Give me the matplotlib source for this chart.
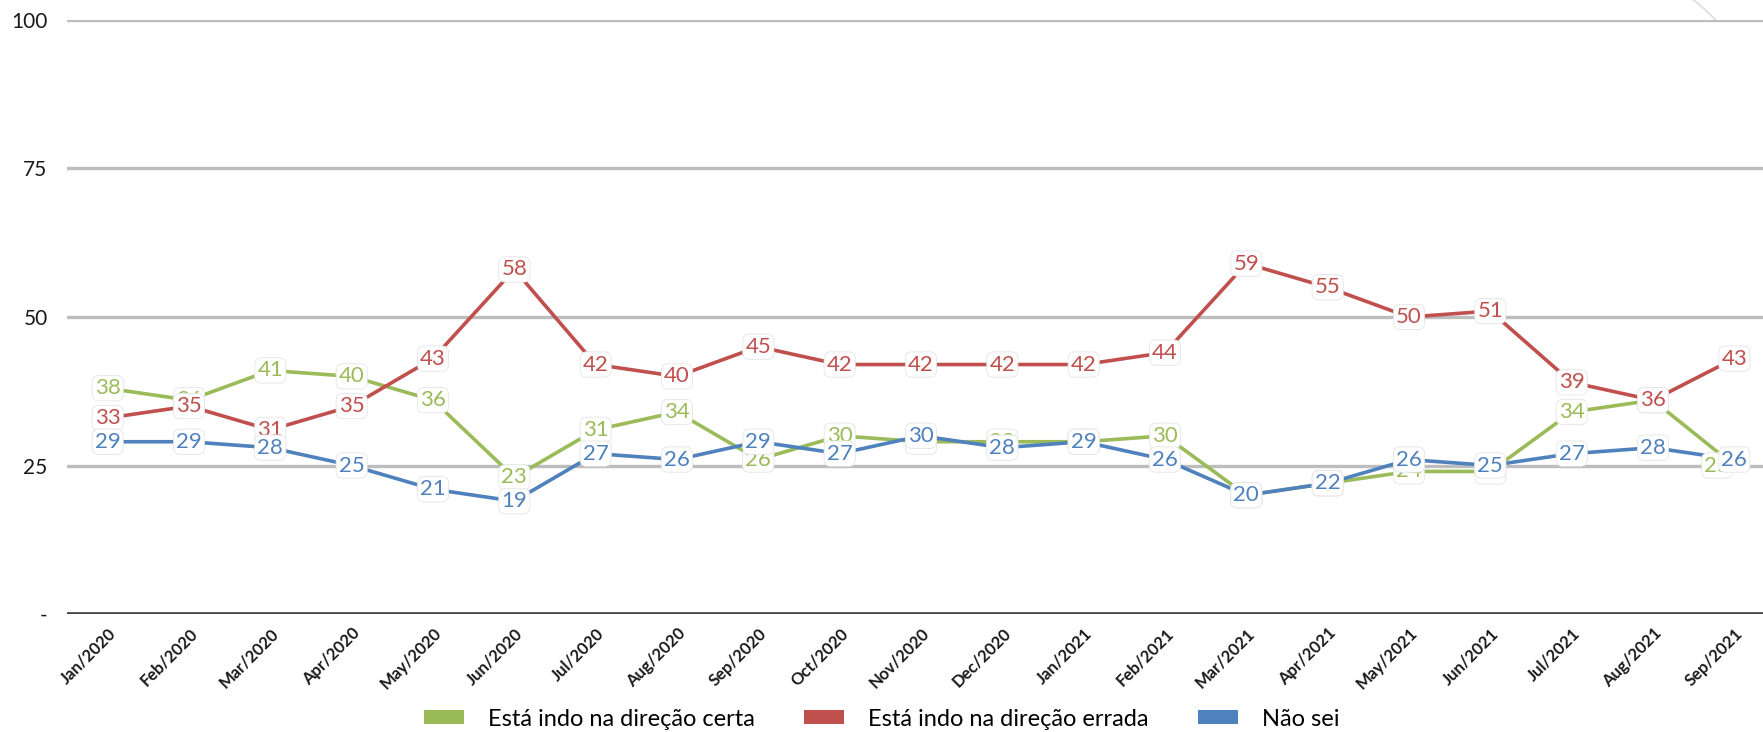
import matplotlib
matplotlib.use('Agg')
import matplotlib.pyplot as plt
from matplotlib.patches import Patch, Arc

# data
months = ['Jan/2020', 'Feb/2020', 'Mar/2020', 'Apr/2020', 'May/2020', 'Jun/2020',
          'Jul/2020', 'Aug/2020', 'Sep/2020', 'Oct/2020', 'Nov/2020', 'Dec/2020',
          'Jan/2021', 'Feb/2021', 'Mar/2021', 'Apr/2021', 'May/2021', 'Jun/2021',
          'Jul/2021', 'Aug/2021', 'Sep/2021']
certa = [38, 36, 41, 40, 36, 23, 31, 34, 26, 30, 29, 29, 29, 30, 20, 22, 24, 24, 34, 36, 25]
errada = [33, 35, 31, 35, 43, 58, 42, 40, 45, 42, 42, 42, 42, 44, 59, 55, 50, 51, 39, 36, 43]
nao_sei = [29, 29, 28, 25, 21, 19, 27, 26, 29, 27, 30, 28, 29, 26, 20, 22, 26, 25, 27, 28, 26]
series_names = ['Está indo na direção certa', 'Está indo na direção errada', 'Não sei']
y_ticks = [0, 25, 50, 75, 100]
y_tick_labels = ['-', '25', '50', '75', '100']

colors = ['#9BBB59', '#C0504D', '#4F81BD']
narrow = ['Liberation Sans Narrow', 'Lato', 'DejaVu Sans']

W, H = 1763, 732
fig = plt.figure(figsize=(W / 100, H / 100), dpi=100)
ax = fig.add_axes([67 / W, 118 / H, 1708 / W, 594 / H])

x = list(range(len(months)))
all_series = [certa, errada, nao_sei]

for vals, c in zip(all_series, colors):
    ax.plot(x, vals, color=c, lw=2.6, zorder=3, solid_capstyle='round')

# data labels, later series drawn on top (like the original)
for k, (vals, c) in enumerate(zip(all_series, colors)):
    for i, v in enumerate(vals):
        dx = 0
        if k == 0 and i == len(vals) - 1:
            dx = -17  # green last label sits a bit left, partly covered
        ax.annotate(str(v), (i, v), xytext=(dx * 0.72, 0), textcoords='offset points',
                    ha='center', va='center', fontsize=16, color=c, family='Lato',
                    zorder=5 + k,
                    bbox=dict(boxstyle='round,pad=0.12,rounding_size=0.3', fc='white',
                              ec='#e4e4e4', lw=0.6))

ax.set_xlim(-0.5, len(months) - 0.5)
ax.set_ylim(0, 100)
ax.set_yticks(y_ticks)
ax.set_yticklabels(y_tick_labels, family='Lato', fontsize=15, color='#1a1a1a')
ax.set_xticks(x)
ax.set_xticklabels(months, rotation=45, ha='right', rotation_mode='anchor',
                   family=narrow, fontsize=12, fontweight='bold', color='#1a1a1a')
ax.tick_params(axis='both', length=0)
ax.tick_params(axis='y', pad=14)
ax.tick_params(axis='x', pad=8)

for yv in y_ticks[1:]:
    ax.axhline(yv, color='#bdbdbd', lw=2.4, zorder=1)
ax.axhline(0, color='#404040', lw=2.6, zorder=2)

for s in ax.spines.values():
    s.set_visible(False)

handles = [Patch(facecolor=c, edgecolor='none') for c in colors]
fig.legend(handles, series_names, loc='center', bbox_to_anchor=(0.5, 13 / H), ncol=3,
           frameon=False, prop={'family': narrow, 'size': 17},
           handlelength=1.7, handleheight=0.55, handletextpad=1.0, columnspacing=2.1)

# faint decorative arc in the top right corner
deco = fig.add_axes([0, 0, 1, 1], zorder=-1)
deco.set_xlim(0, W)
deco.set_ylim(0, H)
deco.axis('off')
deco.add_patch(Arc((1530, 530), 520, 520, theta1=18, theta2=56, color='#dcdcdc', lw=1.2))

fig.savefig('out.png', dpi=100)
